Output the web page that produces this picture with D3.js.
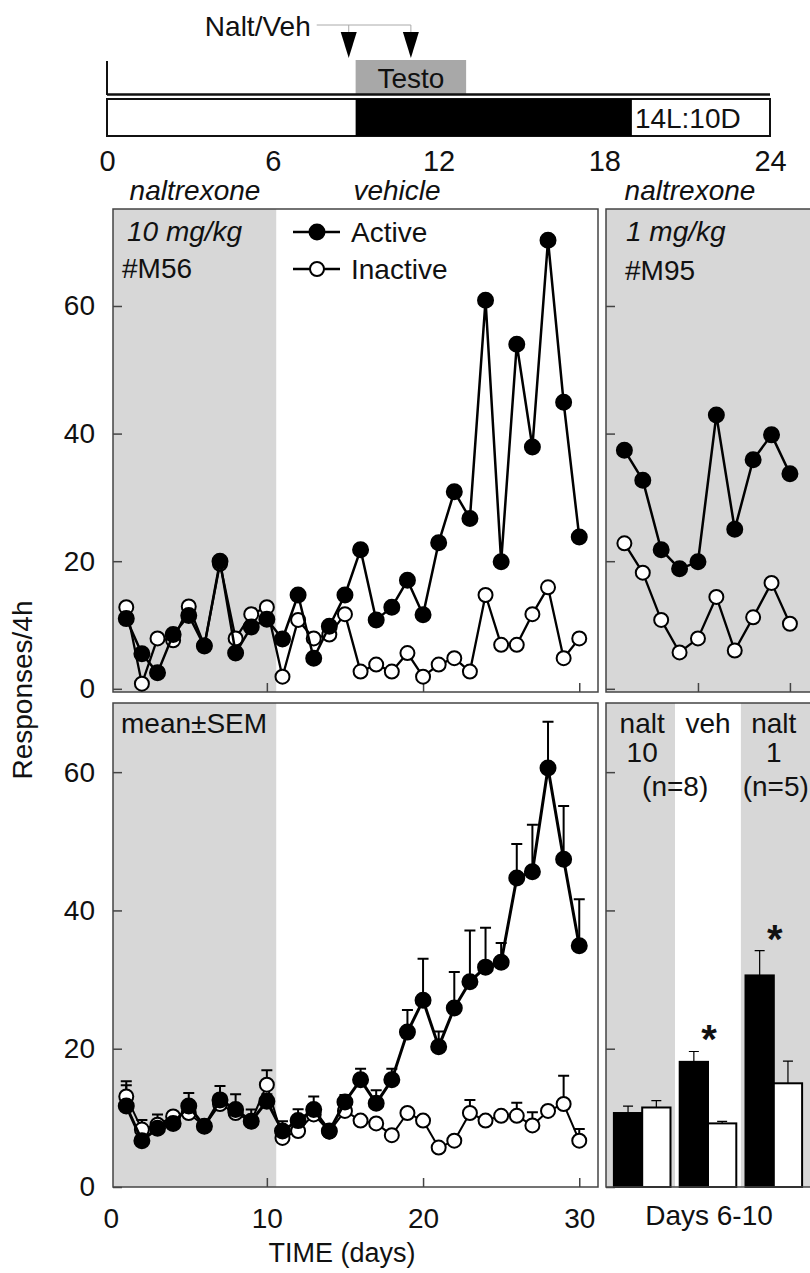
<!DOCTYPE html>
<meta charset="utf-8">
<style>

body {
  margin: 0;
  background: #fff;
}

svg {
  font-family: "Liberation Sans", Arial, sans-serif;
  font-size: 28px;
  fill: #111;
}

.frame {
  fill: none;
  stroke: #444;
  stroke-width: 1.5px;
}

.shade {
  fill: #d7d7d7;
}

.axis .domain {
  display: none;
}

.axis line {
  stroke: #444;
  stroke-width: 1.5px;
}

.axis text {
  font-size: 28px;
  fill: #111;
}

</style>
<body>
<script src="https://d3js.org/d3.v7.min.js"></script>
<script>

var width = 810,
    height = 1273;

// light schedule (hours)
var hourTicks = [0, 6, 12, 18, 24];
var darkPhase = [9, 19];
var testoWindow = [9, 13];
var injections = [8.75, 11];

// rat #M56, naltrexone 10 mg/kg days 1-10, vehicle days 11-30
var days = d3.range(1, 31);
var m56Active   = [11, 5.5, 2.5, 8.5, 11.5, 6.7, 20, 5.6, 9.7, 10.9,
                   7.8, 14.7, 4.8, 9.8, 14.7, 21.8, 10.8, 12.8, 17, 11.6,
                   22.9, 30.9, 26.7, 60.9, 19.9, 54, 37.9, 70.3, 44.9, 23.8];
var m56Inactive = [12.8, 0.8, 7.9, 7.6, 12.9, 6.8, 19.6, 7.9, 11.7, 12.8,
                   1.9, 10.8, 7.9, 8.5, 11.7, 2.7, 3.8, 2.7, 5.6, 1.9,
                   3.8, 4.8, 2.7, 14.7, 6.9, 6.9, 11.7, 15.9, 4.8, 7.9];

// rat #M95, naltrexone 1 mg/kg days 1-10
var m95Days = d3.range(1, 11);
var m95Active   = [37.4, 32.7, 21.8, 18.8, 19.9, 42.9, 25, 35.9, 39.8, 33.7];
var m95Inactive = [22.8, 18.2, 10.8, 5.7, 7.9, 14.4, 6, 11.2, 16.6, 10.2];

// group mean and SEM
var meanActive   = [11.7, 6.7, 8.5, 9.2, 11.7, 8.8, 12.6, 11.2, 9.5, 12.4,
                    8.1, 9.6, 11.2, 8.1, 12.3, 15.5, 12.1, 15.5, 22.4, 27.0,
                    20.3, 25.9, 29.7, 31.8, 32.5, 44.7, 45.6, 60.6, 47.4, 34.9];
var semActive    = [3.0, 1.0, 2.0, 0.8, 1.9, 0.8, 2.0, 2.2, 1.7, 1.0,
                    1.4, 1.65, 1.9, 0.8, 1.0, 1.6, 1.9, 1.6, 3.2, 6.0,
                    2.2, 5.2, 7.4, 5.7, 2.8, 4.9, 6.8, 6.7, 7.7, 6.7];
var meanInactive = [13.1, 8.3, 9.0, 10.2, 10.7, 8.8, 12.0, 10.7, 9.5, 14.8,
                    7.1, 8.1, 10.5, 8.0, 11.0, 9.6, 9.2, 7.5, 10.7, 9.6,
                    5.7, 6.7, 10.7, 9.6, 10.3, 10.3, 8.9, 11.0, 12.0, 6.7];
var semInactive  = [2.2, 1.4, 0.6, 0.6, 0.6, 0.6, 0.6, 0.6, 0.6, 2.1,
                    0.6, 0.6, 0.6, 0.6, 0.6, 0.6, 0.6, 0.6, 0.6, 0.6,
                    0.6, 0.6, 1.9, 0.6, 0.6, 1.9, 1.9, 0.6, 4.1, 1.7];

// days 6-10 summary
var groups = ["nalt10", "veh", "nalt1"];
var groupTop = ["nalt", "veh", "nalt"];
var groupMid = ["10", "", "1"];
var groupN = ["(n=8)", "", "(n=5)"];
var groupShaded = [true, false, true];
var groupStar = [false, true, true];
var barActive = [10.7, 18.1, 30.6];
var barActiveSem = [1.0, 1.5, 3.6];
var barInactive = [11.5, 9.2, 15.0];
var barInactiveSem = [1.0, 0.3, 3.2];

var yTicks = [0, 20, 40, 60];

var svg = d3.select("body").append("svg")
    .attr("width", width)
    .attr("height", height);

// ---- light / treatment schedule ----
var hour = d3.scaleLinear().domain([0, 24]).range([107, 770]);

svg.append("rect")
    .attr("x", hour(testoWindow[0]))
    .attr("y", 60)
    .attr("width", hour(testoWindow[1]) - hour(testoWindow[0]))
    .attr("height", 34)
    .attr("fill", "#a8a8a8");

svg.append("text")
    .attr("x", (hour(testoWindow[0]) + hour(testoWindow[1])) / 2)
    .attr("y", 88)
    .attr("text-anchor", "middle")
    .text("Testo");

svg.append("line")
    .attr("x1", hour(0)).attr("x2", hour(0))
    .attr("y1", 61).attr("y2", 95)
    .attr("stroke", "#111").attr("stroke-width", 2);

svg.append("line")
    .attr("x1", hour(0)).attr("x2", hour(24))
    .attr("y1", 94.5).attr("y2", 94.5)
    .attr("stroke", "#111").attr("stroke-width", 2.5);

svg.append("rect")
    .attr("x", hour(0))
    .attr("y", 99)
    .attr("width", hour(24) - hour(0))
    .attr("height", 37)
    .attr("fill", "#fff")
    .attr("stroke", "#111")
    .attr("stroke-width", 2);

svg.append("rect")
    .attr("x", hour(darkPhase[0]))
    .attr("y", 99)
    .attr("width", hour(darkPhase[1]) - hour(darkPhase[0]))
    .attr("height", 37)
    .attr("fill", "#000");

svg.append("text")
    .attr("x", hour(darkPhase[1]) + 3)
    .attr("y", 128)
    .text("14L:10D");

// injection bracket and arrows
svg.append("path")
    .attr("d", "M" + (hour(injections[0]) - 32) + ",25H" + hour(injections[1]) +
               "M" + hour(injections[0]) + ",25V33M" + hour(injections[1]) + ",25V33")
    .attr("fill", "none")
    .attr("stroke", "#aaa")
    .attr("stroke-width", 1);

svg.selectAll(".inj")
    .data(injections)
  .enter().append("path")
    .attr("class", "inj")
    .attr("d", function(d) {
      var x = hour(d);
      return "M" + (x - 8) + ",32L" + (x + 8) + ",32L" + x + ",58Z";
    })
    .attr("fill", "#000");

svg.append("text")
    .attr("x", hour(injections[0]) - 38)
    .attr("y", 36)
    .attr("text-anchor", "end")
    .text("Nalt/Veh");

svg.append("g")
    .attr("class", "axis")
    .attr("transform", "translate(0,136)")
    .call(d3.axisBottom(hour).tickValues(hourTicks).tickSize(0).tickPadding(14))
    .selectAll("text").style("font-size", "29px");

// treatment headers
svg.append("g").selectAll("text")
    .data([["naltrexone", 195], ["vehicle", 397], ["naltrexone", 690]])
  .enter().append("text")
    .attr("x", function(d) { return d[1]; })
    .attr("y", 200)
    .attr("text-anchor", "middle")
    .style("font-style", "italic")
    .text(function(d) { return d[0]; });

// ---- scales for panels ----
var xLeft = d3.scaleLinear().domain([0.15, 31.2]).range([113, 598]);
var xRight = d3.scaleLinear().domain([0, 11.2]).range([606, 812]);
var yTop = d3.scaleLinear().domain([-0.5, 75.2]).range([692, 209]);
var yBot = d3.scaleLinear().domain([0, 70]).range([1187, 703]);

function panel(x, y, shadeTo, xTickVals, xLabels, yLabels) {
  var g = svg.append("g");
  var x0 = x.range()[0], x1 = x.range()[1],
      y0 = y.range()[1], y1 = y.range()[0];
  if (shadeTo != null) {
    g.append("rect")
        .attr("class", "shade")
        .attr("x", x0).attr("y", y0)
        .attr("width", Math.min(x(shadeTo), x1) - x0)
        .attr("height", y1 - y0);
  }
  g.append("g")
      .attr("class", "axis")
      .attr("transform", "translate(" + x0 + ",0)")
      .call(d3.axisLeft(y).tickValues(yTicks).tickSizeInner(-9).tickSizeOuter(0)
          .tickPadding(18).tickFormat(yLabels ? d3.format("d") : ""));
  var xa = g.append("g")
      .attr("class", "axis")
      .attr("transform", "translate(0," + y1 + ")")
      .call(d3.axisBottom(x).tickValues(xTickVals).tickSizeInner(-9).tickSizeOuter(0)
          .tickPadding(21).tickFormat(xLabels ? d3.format("d") : ""));
  xa.selectAll(".tick line").filter(function(d) { return x(d) < x0; }).remove();
  g.append("rect")
      .attr("class", "frame")
      .attr("x", x0).attr("y", y0)
      .attr("width", x1 - x0)
      .attr("height", y1 - y0);
  return g;
}

function series(g, x, y, xs, vals, filled, lw) {
  var line = d3.line()
      .x(function(d, i) { return x(xs[i]); })
      .y(function(d) { return y(d); });
  g.append("path")
      .datum(vals)
      .attr("d", line)
      .attr("fill", "none")
      .attr("stroke", "#000")
      .attr("stroke-width", lw)
      .attr("stroke-linejoin", "round");
  g.append("g").selectAll("circle")
      .data(vals)
    .enter().append("circle")
      .attr("cx", function(d, i) { return x(xs[i]); })
      .attr("cy", function(d) { return y(d); })
      .attr("r", filled ? 7.5 : 7)
      .attr("fill", filled ? "#000" : "#fff")
      .attr("stroke", "#000")
      .attr("stroke-width", 2);
}

function errorBars(g, x, y, xs, vals, sems, lw) {
  g.append("g").selectAll("path")
      .data(vals)
    .enter().append("path")
      .attr("d", function(d, i) {
        var cx = x(xs[i]), top = y(d + sems[i]);
        return "M" + cx + "," + y(d) + "V" + top + "M" + (cx - 5.5) + "," + top + "H" + (cx + 5.5);
      })
      .attr("fill", "none")
      .attr("stroke", "#000")
      .attr("stroke-width", lw);
}

// ---- top left: #M56 ----
var p1 = panel(xLeft, yTop, 10.6, [10, 20, 30], false, true);
series(p1, xLeft, yTop, days, m56Inactive, false, 2.3);
series(p1, xLeft, yTop, days, m56Active, true, 2.5);

p1.append("text").attr("x", 127).attr("y", 241).style("font-style", "italic").text("10 mg/kg");
p1.append("text").attr("x", 122).attr("y", 278).text("#M56");

var legend = p1.selectAll(".legend")
    .data([["Active", true, 232], ["Inactive", false, 269]])
  .enter().append("g")
    .attr("class", "legend")
    .attr("transform", function(d) { return "translate(0," + d[2] + ")"; });
legend.append("line")
    .attr("x1", 293).attr("x2", 340)
    .attr("stroke", "#000").attr("stroke-width", 2.5);
legend.append("circle")
    .attr("cx", 317).attr("r", function(d) { return d[1] ? 7.5 : 7; })
    .attr("fill", function(d) { return d[1] ? "#000" : "#fff"; })
    .attr("stroke", "#000").attr("stroke-width", 2);
legend.append("text")
    .attr("x", 351).attr("y", 10)
    .text(function(d) { return d[0]; });

// ---- top right: #M95 ----
var p2 = panel(xRight, yTop, 20, [5, 10], false, false);
series(p2, xRight, yTop, m95Days, m95Inactive, false, 2.3);
series(p2, xRight, yTop, m95Days, m95Active, true, 2.5);
p2.append("text").attr("x", 626).attr("y", 241).style("font-style", "italic").text("1 mg/kg");
p2.append("text").attr("x", 625).attr("y", 280).text("#M95");

// ---- bottom left: mean +/- SEM ----
var p3 = panel(xLeft, yBot, 10.6, [0, 10, 20, 30], true, true);
errorBars(p3, xLeft, yBot, days, meanInactive, semInactive, 2);
errorBars(p3, xLeft, yBot, days, meanActive, semActive, 2);
series(p3, xLeft, yBot, days, meanInactive, false, 2);
series(p3, xLeft, yBot, days, meanActive, true, 3);
p3.append("text").attr("x", 121).attr("y", 733).text("mean\u00b1SEM");

// ---- bottom right: days 6-10 bars ----
var xBand = d3.scaleBand().domain(groups).range([606, 810])
    .paddingInner(0.14).paddingOuter(0.12);
var xSub = d3.scaleBand().domain(["Active", "Inactive"]).range([0, xBand.bandwidth()]);
var half = xBand.step() * xBand.paddingInner() / 2;

var p4 = svg.append("g");
p4.selectAll(".shade")
    .data(groups)
  .enter().append("rect")
    .attr("class", "shade")
    .attr("x", function(d, i) { return i === 0 ? 606 : xBand(d) - half; })
    .attr("y", 703)
    .attr("width", function(d, i) { return i === groups.length - 1 ? 30 + xBand.step() : (i === 0 ? xBand(d) - 606 + xBand.bandwidth() + half : xBand.step()); })
    .attr("height", 1187 - 703)
    .style("fill", function(d, i) { return groupShaded[i] ? "#d7d7d7" : "#fff"; });

p4.append("g")
    .attr("class", "axis")
    .attr("transform", "translate(606,0)")
    .call(d3.axisLeft(yBot).tickValues(yTicks).tickSizeInner(-9).tickSizeOuter(0).tickFormat(""));

var bars = [];
groups.forEach(function(gname, i) {
  bars.push({g: gname, k: "Active", v: barActive[i], e: barActiveSem[i]});
  bars.push({g: gname, k: "Inactive", v: barInactive[i], e: barInactiveSem[i]});
});

p4.selectAll(".err")
    .data(bars)
  .enter().append("path")
    .attr("class", "err")
    .attr("d", function(d) {
      var cx = xBand(d.g) + xSub(d.k) + xSub.bandwidth() / 2, top = yBot(d.v + d.e);
      return "M" + cx + "," + yBot(d.v) + "V" + top + "M" + (cx - 5) + "," + top + "H" + (cx + 5);
    })
    .attr("fill", "none")
    .attr("stroke", "#000")
    .attr("stroke-width", 1.2);

p4.selectAll(".bar")
    .data(bars)
  .enter().append("rect")
    .attr("class", "bar")
    .attr("x", function(d) { return xBand(d.g) + xSub(d.k); })
    .attr("y", function(d) { return yBot(d.v); })
    .attr("width", xSub.bandwidth())
    .attr("height", function(d) { return yBot(0) - yBot(d.v); })
    .attr("fill", function(d) { return d.k === "Active" ? "#000" : "#fff"; })
    .attr("stroke", "#000")
    .attr("stroke-width", 2);

p4.selectAll(".star")
    .data(groups.filter(function(d, i) { return groupStar[i]; }))
  .enter().append("text")
    .attr("class", "star")
    .attr("x", function(d) { return xBand(d) + xSub.bandwidth() + 1; })
    .attr("y", function(d) {
      var i = groups.indexOf(d);
      return yBot(barActive[i] + barActiveSem[i]) + 2;
    })
    .attr("text-anchor", "middle")
    .style("font-size", "40px")
    .style("font-weight", "bold")
    .text("*");

var labels = p4.selectAll(".glabel")
    .data(groups)
  .enter().append("g")
    .attr("class", "glabel");
labels.append("text")
    .attr("x", function(d) { return xBand(d) + xBand.bandwidth() / 2; })
    .attr("y", 733)
    .attr("text-anchor", "middle")
    .text(function(d, i) { return groupTop[i]; });
labels.append("text")
    .attr("x", function(d) { return xBand(d) + xBand.bandwidth() / 2; })
    .attr("y", 762)
    .attr("text-anchor", "middle")
    .text(function(d, i) { return groupMid[i]; });
labels.append("text")
    .attr("x", function(d, i) { return xBand(d) + xBand.bandwidth() / 2 + (i === 0 ? 33 : 2); })
    .attr("y", 796)
    .attr("text-anchor", "middle")
    .text(function(d, i) { return groupN[i]; });

p4.append("rect")
    .attr("class", "frame")
    .attr("x", 606).attr("y", 703)
    .attr("width", 240).attr("height", 1187 - 703);

svg.append("text")
    .attr("x", 709).attr("y", 1225)
    .attr("text-anchor", "middle")
    .text("Days 6-10");

// axis titles
svg.append("text")
    .attr("x", 342).attr("y", 1262)
    .attr("text-anchor", "middle")
    .style("font-size", "27px")
    .text("TIME (days)");

svg.append("text")
    .attr("transform", "translate(32,690)rotate(-90)")
    .attr("text-anchor", "middle")
    .text("Responses/4h");

</script>
